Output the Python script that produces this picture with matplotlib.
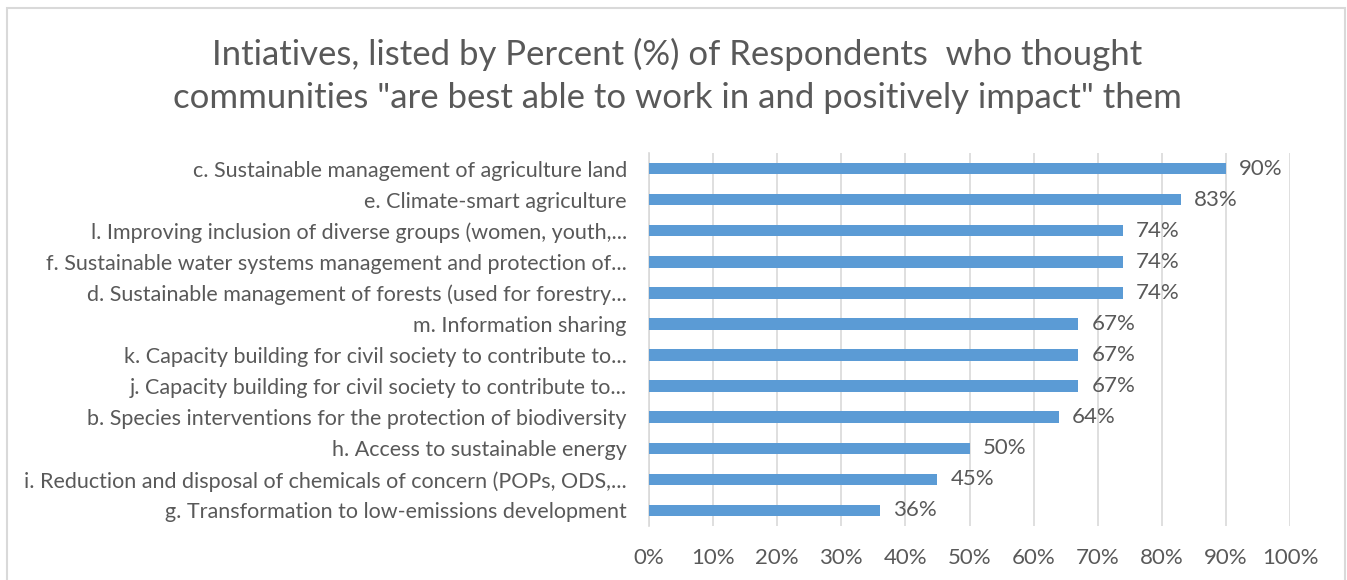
import matplotlib.pyplot as plt
from matplotlib.patches import Rectangle

# initiatives, top to bottom
labels = [
    'c. Sustainable management of agriculture land',
    'e. Climate-smart agriculture',
    'l. Improving inclusion of diverse groups (women, youth,...',
    'f. Sustainable water systems management and protection of...',
    'd. Sustainable management of forests (used for forestry...',
    'm. Information sharing',
    'k. Capacity building for civil society to contribute to...',
    'j. Capacity building for civil society to contribute to...',
    'b. Species interventions for the protection of biodiversity',
    'h. Access to sustainable energy',
    'i. Reduction and disposal of chemicals of concern (POPs, ODS,...',
    'g. Transformation to low-emissions development',
]
percent = [90, 83, 74, 74, 74, 67, 67, 67, 64, 50, 45, 36]
xticks = [0, 10, 20, 30, 40, 50, 60, 70, 80, 90, 100]

title = ('Intiatives, listed by Percent (%) of Respondents  who thought\n'
         'communities "are best able to work in and positively impact" them')

plt.rcParams['font.family'] = ['Lato', 'DejaVu Sans']
txt = '#595959'
grid = '#D9D9D9'

fig = plt.figure(figsize=(13.47, 5.8), dpi=100)
ax = fig.add_axes([0.4818, 0.0931, 0.4759, 0.6431])

y = list(range(len(labels)))
ax.barh(y, percent, height=0.37, color='#5B9BD5', zorder=3)
for yi, v in zip(y, percent):
    ax.text(v + 2.0, yi, f'{v}%', va='center', ha='left', fontsize=16, color=txt)

ax.set_xlim(0, 100)
ax.set_ylim(len(labels) - 0.5, -0.5)
ax.set_xticks(xticks)
ax.set_xticklabels([f'{t}%' for t in xticks], fontsize=16, color=txt)
ax.set_yticks(y)
ax.set_yticklabels(labels, fontsize=15.5, color=txt)
ax.tick_params(axis='y', length=0, pad=16)
ax.tick_params(axis='x', length=0, pad=16)
ax.grid(axis='x', color=grid, linewidth=1.2, zorder=0)
for s in ['top', 'right', 'bottom']:
    ax.spines[s].set_visible(False)
ax.spines['left'].set_color(grid)
ax.spines['left'].set_linewidth(1.2)

fig.text(0.503, 0.869, title, ha='center', va='center', fontsize=25,
         color=txt, linespacing=1.42)

fig.patches.append(Rectangle((7 / 1347, -0.05), 1338 / 1347, 1.05 - 8 / 580,
                             transform=fig.transFigure, fill=False,
                             edgecolor=grid, linewidth=1.5))

fig.savefig('out.png', dpi=100)
